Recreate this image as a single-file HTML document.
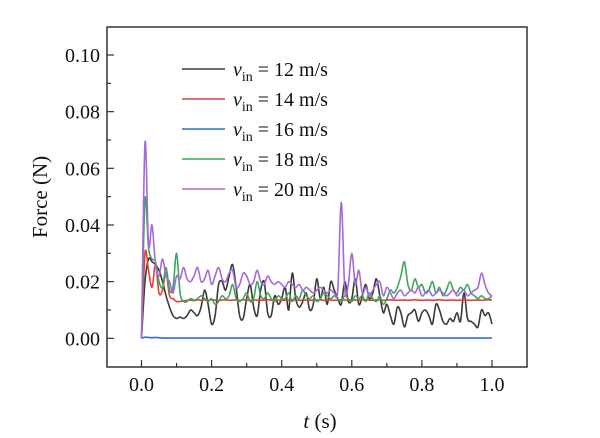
<!DOCTYPE html>
<html><head><meta charset="utf-8"><style>
body{margin:0;background:#fff;}
svg{display:block;}
svg text{font-family:"Liberation Serif","Times New Roman",Times,"Noto Serif CJK SC","DejaVu Serif",serif;}
</style></head><body>
<svg id="chart" width="600" height="438" viewBox="0 0 600 438">
<g id="plot"></g>
<g id="axes"></g>
<g id="legend"></g>
</svg>
<script>
const tValues = Array.from({length:101},(_,i)=>i/100);
const s12 = [0,20,28,27,26,24,20,15,11,8,7,7.5,7,8,10,9,8,11,17,12,5,8,19,20,17,22,26,18,8,7,14,19,11,8,17,20,9,8,15,12,14,18,10,23,14,11,13,16,10,12,21,14,18,12,20,17,14,12,20,13,14,21,12,15,19,14,16,21,15,9,12,8,5,11,9,4,8,9,10,6,9,10,8,5,12,10,6,5,7,6,9,6,16,7,6,5,4,10,8,9,5];
const s14 = [0,30,24,18,26,16,17,23,15,14,13,13,13.2,13.4,13.5,13.3,13.6,13.4,13.5,13.4,13.6,13.5,13.4,13.5,13.6,13.4,13.5,13.5,13.4,13.6,13.5,13.4,13.5,13.5,13.4,13.5,13.6,13.5,13.4,13.5,13.5,13.4,13.5,13.6,13.5,13.4,13.5,13.5,13.4,13.5,13.5,13.6,13.4,13.5,13.5,13.4,13.5,13.6,13.5,13.4,13.5,13.5,13.4,13.5,13.6,13.5,13.4,13.5,13.5,13.4,13.5,13.6,13.5,13.4,13.5,13.5,13.4,13.5,13.6,13.5,13.4,13.5,13.5,13.4,13.5,13.6,13.5,13.4,13.5,13.5,13.4,13.5,13.6,13.5,13.4,13.5,13.5,13.4,13.5,13.6,13.5];
const s16 = [0,0.4,0.3,0.2,0.3,0.2,0.1,0.1,0.1,0.1,0.1,0.1,0.1,0.1,0.1,0.1,0.1,0.1,0.1,0.1,0.1,0.1,0.1,0.1,0.1,0.1,0.1,0.1,0.1,0.1,0.1,0.1,0.1,0.1,0.1,0.1,0.1,0.1,0.1,0.1,0.1,0.1,0.1,0.1,0.1,0.1,0.1,0.1,0.1,0.1,0.1,0.1,0.1,0.1,0.1,0.1,0.1,0.1,0.1,0.1,0.1,0.1,0.1,0.1,0.1,0.1,0.1,0.1,0.1,0.1,0.1,0.1,0.1,0.1,0.1,0.1,0.1,0.1,0.1,0.1,0.1,0.1,0.1,0.1,0.1,0.1,0.1,0.1,0.1,0.1,0.1,0.1,0.1,0.1,0.1,0.1,0.1,0.1,0.1,0.1,0.1];
const s18 = [0,49,32,28,27,20,18,25,17,18,30,16,13,13,14,13.5,14,15,14,13,14,12,13,15,14,15,19,14,13,14,16,13,14,20,15,14,16,14,13,15,14,14,16,13,15,14,17,15,14,15,13,14,16,15,14,15,14,13,15,14,13,15,14,15,13,16,14,13,15,12,14,17,16,18,22,27,19,17,21,18,19,16,17,20,16,18,15,17,20,17,16,18,17,19,16,15,14,15,14,14,15];
const s20 = [0,69,33,40,26,22,28,22,20,16,22,21,25,21,20,22,25,20,21,24,19,22,25,21,20,23,24,18,19,23,22,19,20,24,20,19,22,20,19,20,19,18,20,19,18,19,17,18,17,16,17,18,17,16,17,16,17,48,17,19,30,19,24,16,18,15,17,19,20,15,18,16,14,16,17,15,16,17,16,18,15,16,17,15,16,17,16,15,16,17,15,16,17,15,16,17,18,23,19,16,15];
const seriesList = [s12,s14,s16,s18,s20];
const seriesColors = ['#3a3a3a','#e0403c','#2f6fd6','#3ea65a','#a46ad8'];
const legendLabels = ['12','14','16','18','20'];
const xTickLabels = ['0.0','0.2','0.4','0.6','0.8','1.0'];
const yTickLabels = ['0.00','0.02','0.04','0.06','0.08','0.10'];

const L=107,R=527,T=27,B=367;
const xs = t => 141.5 + t*(492-141.5);
const ys = v => 338.3 - v*(338.3-55)/0.10;
const NS='http://www.w3.org/2000/svg';
function mk(tag,attrs,parent){const e=document.createElementNS(NS,tag);for(const k in attrs)e.setAttribute(k,attrs[k]);parent.appendChild(e);return e;}
const plot=document.getElementById('plot'),axes=document.getElementById('axes'),legend=document.getElementById('legend');

function smoothPath(pts){
  let d=`M${pts[0][0]},${pts[0][1]}`;
  for(let i=0;i<pts.length-1;i++){
    const p0=pts[Math.max(0,i-1)],p1=pts[i],p2=pts[i+1],p3=pts[Math.min(pts.length-1,i+2)];
    const c1x=p1[0]+(p2[0]-p0[0])/6,c1y=p1[1]+(p2[1]-p0[1])/6;
    const c2x=p2[0]-(p3[0]-p1[0])/6,c2y=p2[1]-(p3[1]-p1[1])/6;
    d+=` C${c1x.toFixed(2)},${c1y.toFixed(2)} ${c2x.toFixed(2)},${c2y.toFixed(2)} ${p2[0].toFixed(2)},${p2[1].toFixed(2)}`;
  }
  return d;
}
[0,1,2,3,4].forEach(si=>{
  const pts=tValues.map((t,i)=>[xs(t),ys(seriesList[si][i]/1000)]);
  const p=mk('path',{d:smoothPath(pts),fill:'none',stroke:seriesColors[si],'stroke-width':1.6,'stroke-linejoin':'round'},plot);
  
  
});

const frame=mk('rect',{x:L,y:T,width:R-L,height:B-T,fill:'none',stroke:'#333','stroke-width':1.5},axes);


for(let i=0;i<=10;i++){
  const x=xs(i/10);
  mk('line',{x1:x,x2:x,y1:B,y2:B-(i%2===0?7:4),stroke:'#333','stroke-width':1.2},axes);
}
xTickLabels.forEach((lab,i)=>{
  const tx=mk('text',{x:xs(i*0.2),y:391,'font-size':20,'text-anchor':'middle',fill:'#111'},axes);
  tx.textContent=lab;
  
  
});
for(let i=0;i<=11;i++){
  const y=ys(i*0.01);
  if(y<T) continue;
  mk('line',{x1:L,x2:L+(i%2===0?7:4),y1:y,y2:y,stroke:'#333','stroke-width':1.2},axes);
}
yTickLabels.forEach((lab,i)=>{
  const tx=mk('text',{x:100,y:ys(i*0.02)+7,'font-size':20,'text-anchor':'end',fill:'#111'},axes);
  tx.textContent=lab;
  
  
});
const xt=mk('text',{x:320,y:428,'font-size':21,'text-anchor':'middle',fill:'#111'},axes);
xt.innerHTML='<tspan font-style="italic">t</tspan> (s)';


const yt=mk('text',{x:0,y:0,'font-size':21,'text-anchor':'middle',fill:'#111',transform:'translate(47,197) rotate(-90)'},axes);
yt.textContent='Force (N)';



legendLabels.forEach((lab,i)=>{
  const y=69+i*30;
  const g=mk('g',{},legend);
  
  
  mk('line',{x1:182,x2:225,y1:y,y2:y,stroke:seriesColors[i],'stroke-width':1.6},g);
  const tx=mk('text',{x:233,y:y+7,'font-size':20,fill:'#111'},g);
  tx.innerHTML='<tspan font-style="italic">v</tspan><tspan font-size="14" dy="5">in</tspan><tspan dy="-5"> = '+lab+' m/s</tspan>';
});
</script>
</body></html>
